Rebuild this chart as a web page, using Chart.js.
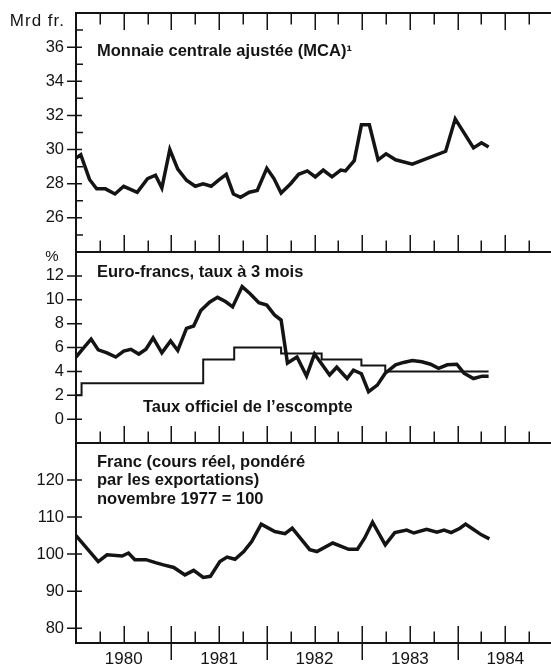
<!DOCTYPE html>
<html lang="fr">
<head>
<meta charset="UTF-8">
<title>Monnaie centrale, euro-francs et cours du franc</title>
<script src="https://cdn.jsdelivr.net/npm/chart.js"></script>
<style>
  body { margin: 0; background: #fff; overflow: hidden; }
  #wrap { position: relative; width: 551px; height: 668px; overflow: hidden; background: #fff; }
  canvas { position: absolute; left: 0; }
</style>
</head>
<body>
<div id="wrap">
  <canvas id="mcaChart" width="553" height="256" style="top:0"></canvas>
  <canvas id="euroChart" width="553" height="200" style="top:248px"></canvas>
  <canvas id="francChart" width="553" height="229" style="top:439px"></canvas>
</div>
<script>
// x values are months counted from January 1980
const mcaMonths = [0, 0.6, 1.7, 2.6, 3.7, 4.9, 6.0, 7.7, 9.0, 10.0, 10.8, 11.8, 12.8, 13.9, 15.0, 16.0, 17.0, 17.9, 18.9, 19.8, 20.7, 21.8, 22.8, 24.0, 24.9, 25.8, 27.0, 28.0, 29.1, 30.1, 31.1, 32.2, 33.3, 33.9, 35.0, 35.9, 36.9, 38.0, 39.0, 40.2, 42.3, 46.5, 47.7, 50.0, 51.0, 51.9];
const mcaValues = [29.5, 29.7, 28.25, 27.7, 27.7, 27.4, 27.85, 27.5, 28.3, 28.5, 27.75, 30.0, 28.85, 28.2, 27.85, 28.0, 27.85, 28.2, 28.55, 27.4, 27.2, 27.5, 27.6, 28.9, 28.3, 27.45, 28.0, 28.55, 28.75, 28.4, 28.8, 28.4, 28.8, 28.75, 29.35, 31.45, 31.45, 29.4, 29.75, 29.4, 29.15, 29.9, 31.8, 30.1, 30.4, 30.15];

const euroMonths = [0, 0.8, 1.9, 2.8, 3.9, 5.0, 6.0, 6.9, 7.9, 8.8, 9.7, 10.8, 11.9, 12.8, 13.9, 14.8, 15.7, 16.8, 17.8, 18.8, 19.7, 20.9, 21.9, 23.0, 24.0, 25.0, 25.8, 26.6, 27.8, 29.0, 30.0, 31.9, 32.8, 34.1, 34.9, 35.9, 36.8, 37.9, 38.9, 40.2, 41.2, 42.3, 43.5, 44.6, 45.6, 46.7, 47.9, 48.8, 50.0, 51.1, 51.9];
const euroValues = [5.2, 5.85, 6.7, 5.8, 5.55, 5.2, 5.7, 5.85, 5.45, 5.85, 6.8, 5.55, 6.55, 5.75, 7.6, 7.8, 9.1, 9.8, 10.2, 9.85, 9.4, 11.1, 10.5, 9.75, 9.55, 8.7, 8.3, 4.7, 5.2, 3.6, 5.45, 3.7, 4.35, 3.4, 4.1, 3.8, 2.3, 2.85, 3.85, 4.55, 4.75, 4.9, 4.8, 4.6, 4.25, 4.55, 4.6, 3.85, 3.4, 3.6, 3.6];

const escompteMonths = [0, 0.7, 16.0, 19.9, 25.8, 30.9, 35.9, 38.9, 51.9];
const escompteValues = [2, 3, 5, 6, 5.5, 5, 4.5, 4, 4];

const francMonths = [0, 2.8, 3.9, 5.8, 6.6, 7.4, 8.8, 10.0, 11.0, 12.3, 13.7, 14.8, 16.0, 16.9, 18.1, 19.0, 20.0, 21.1, 22.1, 23.3, 25.0, 26.3, 27.2, 29.4, 30.3, 32.3, 34.3, 35.4, 36.3, 37.3, 38.9, 40.1, 41.6, 42.5, 44.1, 45.4, 46.3, 47.2, 48.3, 49.0, 50.1, 51.0, 52.0];
const francValues = [105.0, 98.0, 99.8, 99.5, 100.3, 98.5, 98.5, 97.7, 97.1, 96.4, 94.4, 95.6, 93.7, 94.0, 98.0, 99.2, 98.6, 100.7, 103.4, 108.1, 106.1, 105.5, 107.0, 101.2, 100.7, 103.0, 101.3, 101.3, 104.3, 108.6, 102.5, 105.8, 106.5, 105.7, 106.7, 105.9, 106.5, 105.8, 107.0, 108.1, 106.5, 105.2, 104.1];

const mcaTicks = [26, 28, 30, 32, 34, 36];
const mcaMinorTicks = [25, 27, 29, 31, 33, 35, 37];
const euroTicks = [0, 2, 4, 6, 8, 10, 12];
const francTicks = [80, 90, 100, 110, 120];
const yearLabels = ['1980', '1981', '1982', '1983', '1984'];
const yearMidMonths = [6, 18, 30, 42, 54];

const INK = '#141414';
const FONT = '"Liberation Sans", Arial, Helvetica, sans-serif';

function pts(xs, ys) {
  return xs.map((x, i) => ({ x: x, y: ys[i] }));
}

// frame, tick marks and labels written inside the panels
const decor = {
  id: 'decor',
  afterDraw(chart, args, opts) {
    const ctx = chart.ctx;
    const a = chart.chartArea;
    const x = chart.scales.x;
    const y = chart.scales.y;
    ctx.save();
    ctx.strokeStyle = INK;
    ctx.lineWidth = 2;
    ctx.beginPath();
    ctx.moveTo(a.left, a.top); ctx.lineTo(a.right, a.top);
    ctx.moveTo(a.left, a.bottom); ctx.lineTo(a.right, a.bottom);
    ctx.moveTo(a.left, a.top - 1); ctx.lineTo(a.left, a.bottom + 1);
    ctx.stroke();

    ctx.lineWidth = 1.5;
    ctx.beginPath();
    for (let m = 3; m < 60; m += 3) {
      const px = Math.round(x.getPixelForValue(m)) + 0.25;
      const len = m % 6 === 0 ? 17 : 11.5;
      if (opts.topTicks) { ctx.moveTo(px, a.top); ctx.lineTo(px, a.top + len); }
      if (opts.bottomTicks) { ctx.moveTo(px, a.bottom); ctx.lineTo(px, a.bottom - len); }
      if (opts.yearTicks && m % 12 === 0) { ctx.moveTo(px, a.bottom); ctx.lineTo(px, a.bottom + 17); }
    }
    opts.major.forEach(v => {
      const py = y.getPixelForValue(v);
      ctx.moveTo(a.left - 9, py); ctx.lineTo(a.left + 6, py);
    });
    (opts.minor || []).forEach(v => {
      const py = y.getPixelForValue(v);
      ctx.moveTo(a.left, py); ctx.lineTo(a.left + 7, py);
    });
    ctx.stroke();

    ctx.fillStyle = INK;
    ctx.textBaseline = 'alphabetic';
    opts.texts.forEach(t => {
      ctx.font = (t.bold ? 'bold ' : '') + t.size + 'px ' + FONT;
      ctx.textAlign = t.align || 'left';
      ctx.letterSpacing = t.spacing || '0px';
      ctx.fillText(t.text, t.x, t.y);
    });
    ctx.restore();
  }
};

function lineSet(data, width, stepped) {
  return {
    data: data,
    borderColor: INK,
    borderWidth: width,
    pointRadius: 0,
    tension: 0,
    stepped: stepped || false,
    fill: false
  };
}

function noPad(s) {
  s.paddingTop = 0;
  s.paddingBottom = 0;
  s.paddingLeft = 0;
  s.paddingRight = 0;
}

function makeChart(id, cfg) {
  return new Chart(document.getElementById(id), {
    type: 'line',
    data: { datasets: cfg.datasets },
    options: {
      responsive: false,
      animation: false,
      events: [],
      layout: { padding: cfg.padding },
      plugins: {
        legend: { display: false },
        tooltip: { enabled: false },
        decor: cfg.decor
      },
      scales: {
        x: {
          type: 'linear',
          min: 0,
          max: 60,
          display: cfg.showYears,
          grid: { display: false, drawTicks: false },
          border: { display: false },
          afterBuildTicks: s => { s.ticks = yearMidMonths.map(v => ({ value: v })); },
          afterFit: s => { s.height = cfg.showYears ? 25 : 0; noPad(s); },
          ticks: {
            padding: 6,
            color: INK,
            font: { family: FONT, size: 17 },
            maxRotation: 0,
            autoSkip: false,
            callback: (v, i) => yearLabels[i]
          }
        },
        y: {
          type: 'linear',
          min: cfg.yMin,
          max: cfg.yMax,
          grid: { display: false, drawTicks: false },
          border: { display: false },
          afterBuildTicks: s => { s.ticks = cfg.yTicks.map(v => ({ value: v })); },
          afterFit: s => { s.width = 76; noPad(s); },
          ticks: {
            padding: 12,
            color: INK,
            autoSkip: false,
            font: { family: FONT, size: 16.5 },
            callback: v => String(v)
          }
        }
      }
    },
    plugins: [decor]
  });
}

makeChart('mcaChart', {
  datasets: [lineSet(pts(mcaMonths, mcaValues), 3.5)],
  padding: { top: 13, bottom: 4, left: 0, right: 0 },
  yMin: 24, yMax: 38, yTicks: mcaTicks, showYears: false,
  decor: {
    topTicks: true, bottomTicks: true, major: mcaTicks, minor: mcaMinorTicks,
    texts: [
      { text: 'Mrd fr.', x: 65, y: 26, size: 17, align: 'right', spacing: '1px' },
      { text: 'Monnaie centrale ajustée (MCA)¹', x: 97, y: 55.5, size: 16.5, bold: true }
    ]
  }
});

makeChart('euroChart', {
  datasets: [
    lineSet(pts(euroMonths, euroValues), 3.5),
    lineSet(pts(escompteMonths, escompteValues), 2, true)
  ],
  padding: { top: 4, bottom: 5, left: 0, right: 0 },
  yMin: -2, yMax: 14, yTicks: euroTicks, showYears: false,
  decor: {
    topTicks: false, bottomTicks: true, major: euroTicks,
    texts: [
      { text: '%', x: 52, y: 13, size: 15, align: 'center' },
      { text: 'Euro-francs, taux à 3 mois', x: 97, y: 28.5, size: 16.5, bold: true },
      { text: 'Taux officiel de l’escompte', x: 143, y: 164, size: 16.5, bold: true }
    ]
  }
});

makeChart('francChart', {
  datasets: [lineSet(pts(francMonths, francValues), 3.5)],
  padding: { top: 4, bottom: 0, left: 0, right: 0 },
  yMin: 76, yMax: 130, yTicks: francTicks, showYears: true,
  decor: {
    topTicks: false, bottomTicks: true, yearTicks: true, major: francTicks,
    texts: [
      { text: 'Franc (cours réel, pondéré', x: 97, y: 27.5, size: 16.5, bold: true },
      { text: 'par les exportations)', x: 97, y: 46, size: 16.5, bold: true },
      { text: 'novembre 1977 = 100', x: 97, y: 64.5, size: 16.5, bold: true }
    ]
  }
});
</script>
</body>
</html>
